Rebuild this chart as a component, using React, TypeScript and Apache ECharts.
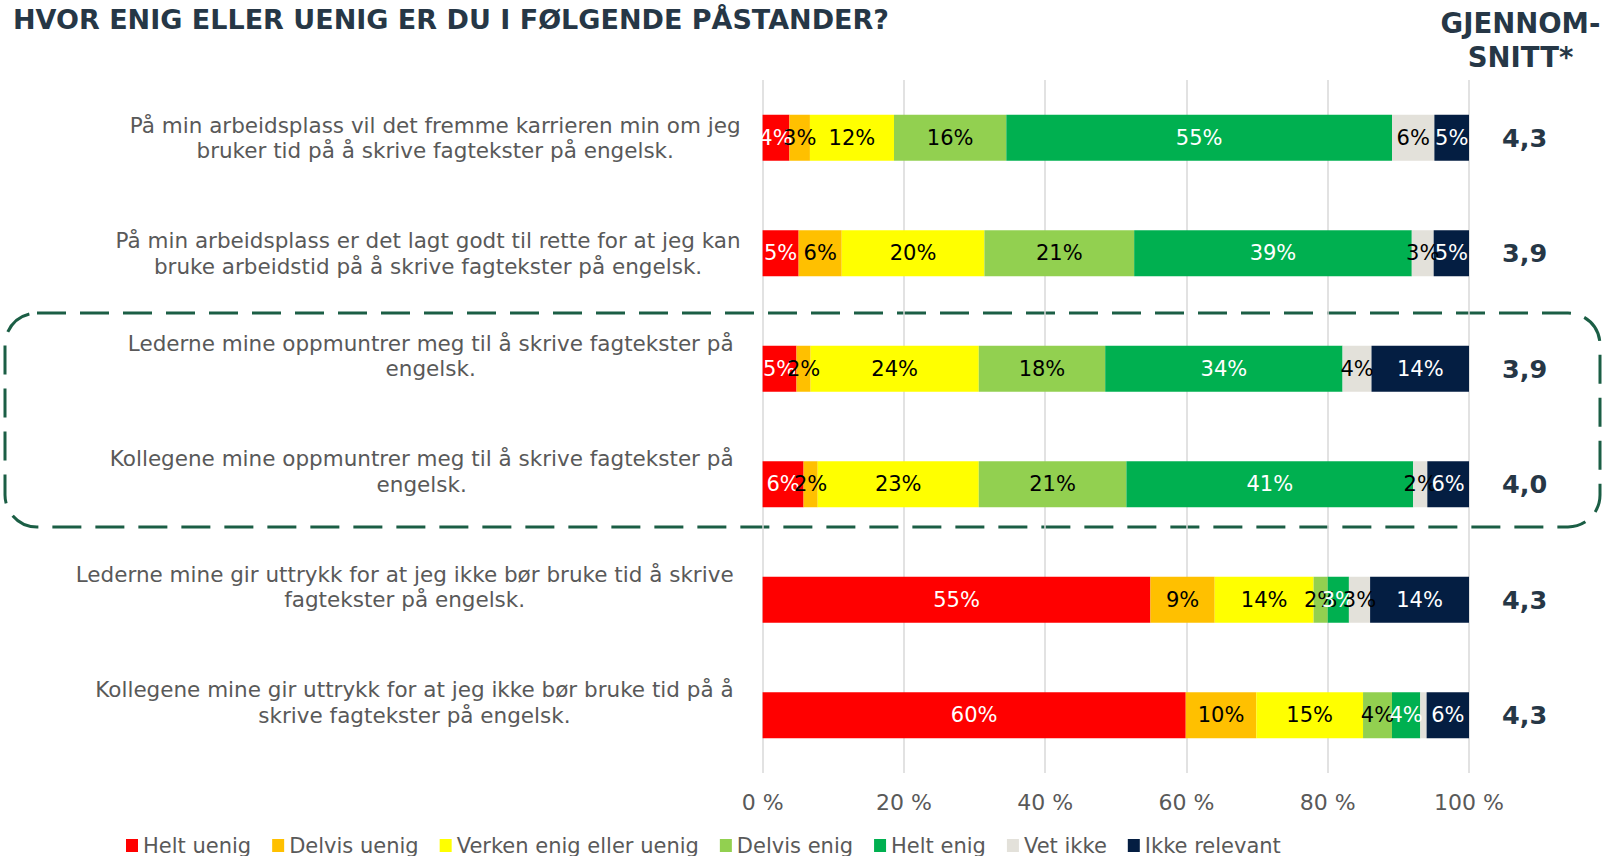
import React, { useEffect, useRef } from "react";
import * as echarts from "echarts";

const categories = [
  "På min arbeidsplass vil det fremme karrieren min om jeg\nbruker tid på å skrive fagtekster på engelsk.",
  "På min arbeidsplass er det lagt godt til rette for at jeg kan\nbruke arbeidstid på å skrive fagtekster på engelsk.",
  "Lederne mine oppmuntrer meg til å skrive fagtekster på\nengelsk.",
  "Kollegene mine oppmuntrer meg til å skrive fagtekster på\nengelsk.",
  "Lederne mine gir uttrykk for at jeg ikke bør bruke tid å skrive\nfagtekster på engelsk.",
  "Kollegene mine gir uttrykk for at jeg ikke bør bruke tid på å\nskrive fagtekster på engelsk.",
];

const seriesNames = [
  "Helt uenig",
  "Delvis uenig",
  "Verken enig eller uenig",
  "Delvis enig",
  "Helt enig",
  "Vet ikke",
  "Ikke relevant",
];

const heltUenig = [3.8, 5.1, 4.8, 5.8, 54.9, 59.9];
const delvisUenig = [2.9, 6.1, 2.0, 2.0, 9.1, 10.0];
const verken = [11.9, 20.2, 23.8, 22.8, 14.0, 15.1];
const delvisEnig = [15.9, 21.2, 17.9, 20.9, 2.0, 4.1];
const heltEnig = [54.6, 39.3, 33.6, 40.6, 3.0, 4.0];
const vetIkke = [6.0, 3.1, 4.1, 2.0, 3.0, 0.9];
const ikkeRelevant = [4.9, 5.0, 13.8, 5.9, 14.0, 6.0];

const averages = [4.3, 3.9, 3.9, 4.0, 4.3, 4.3];

const xTicks = [0, 20, 40, 60, 80, 100];

const title = "HVOR ENIG ELLER UENIG ER DU I FØLGENDE PÅSTANDER?";
const avgTitle = "GJENNOM-\nSNITT*";

const colors = ["#FF0000", "#FFC000", "#FFFF00", "#92D050", "#00B050", "#E3E1DA", "#041E42"];
const labelColors = ["#ffffff", "#000000", "#000000", "#000000", "#ffffff", "#000000", "#ffffff"];

const FONT = "DejaVu Sans";
const GREY = "#595959";
const DARK = "#263746";

export default function App() {
  const ref = useRef<HTMLDivElement>(null);

  useEffect(() => {
    if (!ref.current) return;
    const chart = echarts.init(ref.current, undefined, { renderer: "svg" });
    const values = [heltUenig, delvisUenig, verken, delvisEnig, heltEnig, vetIkke, ikkeRelevant];

    const series = values.map((arr, i) => ({
      name: seriesNames[i],
      type: "bar",
      stack: "total",
      barWidth: 46,
      data: arr,
      itemStyle: { color: colors[i] },
      label: {
        show: true,
        position: "inside",
        color: labelColors[i],
        fontSize: 21,
        fontFamily: FONT,
        formatter: (p: any) => (p.value < 1.5 ? "" : Math.round(p.value) + "%"),
      },
      emphasis: { disabled: true },
    }));

    const labelStyle = {
      fontSize: 21.5,
      fontFamily: FONT,
      color: GREY,
      lineHeight: 25.5,
      align: "center",
    };

    chart.setOption({
      animation: false,
      legend: {
        left: 121,
        top: 830,
        itemWidth: 12,
        itemHeight: 13,
        itemGap: 21,
        icon: "rect",
        data: seriesNames,
        textStyle: { fontSize: 21, fontFamily: FONT, color: GREY },
        selectedMode: false,
      },
      grid: { left: 762.6, right: 134, top: 80, bottom: 83, containLabel: false },
      xAxis: {
        type: "value",
        min: xTicks[0],
        max: xTicks[xTicks.length - 1],
        interval: 20,
        axisLine: { show: false },
        axisTick: { show: false },
        splitLine: { lineStyle: { color: "#D9D9D9", width: 1.5 } },
        axisLabel: {
          formatter: "{value} %",
          fontSize: 22,
          fontFamily: FONT,
          color: GREY,
          margin: 18,
        },
      },
      yAxis: [
        {
          type: "category",
          inverse: true,
          data: categories,
          axisLine: { show: false },
          axisTick: { show: false },
          axisLabel: {
            interval: 0,
            margin: 22,
            formatter: (value: string, index: number) => {
              const style = index >= 2 ? "b" : "a";
              const lines = value.split("\n").map((l) => `{${style}|${l}}`);
              if (index >= 2) lines.push(`{${style}| }`);
              return lines.join("\n");
            },
            rich: {
              a: { ...labelStyle },
              b: { ...labelStyle, padding: [0, 7, 0, 0] },
            },
          },
        },
        {
          type: "category",
          inverse: true,
          position: "right",
          data: averages.map((v) => v.toFixed(1).replace(".", ",")),
          axisLine: { show: false },
          axisTick: { show: false },
          axisLabel: {
            interval: 0,
            margin: 33,
            fontSize: 25.5,
            fontWeight: "bold",
            fontFamily: FONT,
            color: DARK,
            padding: [10, 0, 0, 0],
          },
        },
      ],
      graphic: [
        {
          type: "text",
          x: 13,
          y: 19,
          style: {
            text: title,
            fontSize: 27,
            fontWeight: "bold",
            fontFamily: FONT,
            fill: DARK,
            align: "left",
            textAlign: "left",
            verticalAlign: "middle",
            textVerticalAlign: "middle",
          },
        },
        {
          type: "text",
          x: 1520.5,
          y: 40,
          style: {
            text: avgTitle,
            fontSize: 27.5,
            fontWeight: "bold",
            fontFamily: FONT,
            fill: DARK,
            lineHeight: 34,
            align: "center",
            textAlign: "center",
            verticalAlign: "middle",
            textVerticalAlign: "middle",
          },
        },
        {
          type: "rect",
          shape: { x: 5, y: 313, width: 1595, height: 214, r: 32 },
          style: { fill: "none", stroke: "#1B5E45", lineWidth: 3, lineDash: [29, 14] },
          silent: true,
        },
      ],
      series,
    });

    return () => chart.dispose();
  }, []);

  return (
    <div
      ref={ref}
      style={{ position: "fixed", left: 0, top: 0, width: 1603, height: 856, background: "#fff" }}
    />
  );
}
